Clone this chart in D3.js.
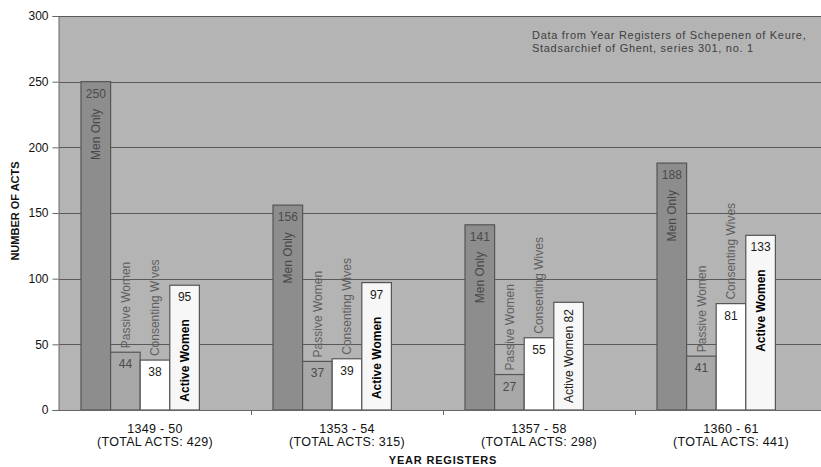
<!DOCTYPE html>
<html>
<head>
<meta charset="utf-8">
<script src="https://cdn.jsdelivr.net/npm/d3@7"></script>
<style>
  html, body { margin: 0; padding: 0; background: #fff; }
  svg { display: block; font-family: "Liberation Sans", Arial, sans-serif; }
</style>
</head>
<body>
<svg id="chart" width="821" height="467"></svg>
<script>
const categories = ["1349 - 50", "1353 - 54", "1357 - 58", "1360 - 61"];
const totals = [429, 315, 298, 441];
const seriesNames = ["Men Only", "Passive Women", "Consenting Wives", "Active Women"];
const menOnly = [250, 156, 141, 188];
const passiveWomen = [44, 37, 27, 41];
const consentingWives = [38, 39, 55, 81];
const activeWomen = [95, 97, 82, 133];
const yTicks = [0, 50, 100, 150, 200, 250, 300];
const note = ["Data from Year Registers of Schepenen of Keure,", "Stadsarchief of Ghent, series 301, no. 1"];

(function () {
const seriesValues = [menOnly, passiveWomen, consentingWives, activeWomen];
const fills = ["#8d8d8d", "#a8a8a8", "#ffffff", "#f7f7f7"];

const svg = d3.select("#chart");
const mLeft = 59, mRight = 827, mTop = 16, mBottom = 410;

const y = d3.scaleLinear().domain([0, 300]).range([mBottom, mTop]);
const x0 = d3.scaleBand().domain(categories).range([mLeft, mRight]);
const x1 = d3.scaleBand().domain(d3.range(5)).range([22, x0.bandwidth() - 22]);

// plot background
svg.append("rect").attr("x", mLeft).attr("y", mTop).attr("width", mRight - mLeft).attr("height", mBottom - mTop)
  .attr("fill", "#b4b4b4");

// gridlines
svg.append("g").selectAll("line").data(yTicks.filter(t => t > 0)).join("line")
  .attr("x1", mLeft).attr("x2", mRight).attr("y1", d => Math.round(y(d)) + 0.5).attr("y2", d => Math.round(y(d)) + 0.5)
  .attr("stroke", "#5a5a5a").attr("stroke-width", 1);

// bars
const rows = [];
categories.forEach((c, i) => seriesValues.forEach((vals, s) => rows.push({ c, i, s, v: vals[i] })));
const cx = d => x0(d.c) + x1(d.s) + x1.bandwidth() / 2;
// inside-bar label fits when bar is tall enough for value + name
const fitsInside = d => (y(0) - y(d.v)) > 120;
const insideName = d => d.s === 0 || (d.s === 3 && fitsInside(d));
const combined = d => d.s === 3 && !fitsInside(d);

const g = svg.append("g");
g.selectAll("rect").data(rows).join("rect")
  .attr("x", d => x0(d.c) + x1(d.s))
  .attr("y", d => y(d.v))
  .attr("width", x1.bandwidth())
  .attr("height", d => y(0) - y(d.v))
  .attr("fill", d => fills[d.s])
  .attr("stroke", "#555").attr("stroke-width", 1.2);

// value labels (horizontal)
g.selectAll("text.val").data(rows.filter(d => !combined(d))).join("text").attr("class", "val")
  .attr("x", cx)
  .attr("y", d => y(d.v) + 16)
  .attr("text-anchor", "middle")
  .attr("font-size", 12)
  .attr("fill", d => d.s < 2 ? "#4a4a4a" : "#1a1a1a")
  .text(d => d.v);

// series name labels (rotated)
g.selectAll("text.name").data(rows).join("text").attr("class", "name")
  .attr("transform", d => {
    let yy;
    if (combined(d)) yy = y(0) - 7;
    else if (d.s === 0) yy = y(d.v) + 27;
    else if (d.s === 3) yy = y(d.v) + 34;
    else yy = y(d.v) - 4;
    return `translate(${cx(d)},${yy}) rotate(-90)`;
  })
  .attr("dy", "0.36em")
  .attr("text-anchor", d => insideName(d) ? "end" : "start")
  .attr("font-size", 12)
  .attr("font-weight", d => (d.s === 3 && !combined(d)) ? "bold" : "normal")
  .attr("fill", d => d.s === 3 ? (combined(d) ? "#222" : "#000") : (d.s === 0 ? "#484848" : "#606060"))
  .text(d => combined(d) ? `${seriesNames[d.s]} ${d.v}` : seriesNames[d.s]);

// y axis
const yAxis = svg.append("g").attr("transform", `translate(${mLeft - 0.5},0)`)
  .call(d3.axisLeft(y).tickValues(yTicks).tickSize(6).tickPadding(4));
yAxis.select(".domain").attr("stroke", "#666");
yAxis.selectAll(".tick line").attr("stroke", "#666");
yAxis.selectAll(".tick text").attr("font-size", 12).attr("fill", "#111").attr("font-family", "Liberation Sans, Arial, sans-serif");

// x axis line and boundary ticks
svg.append("line").attr("x1", mLeft).attr("x2", mRight).attr("y1", mBottom + 0.5).attr("y2", mBottom + 0.5).attr("stroke", "#666");
svg.append("g").selectAll("line").data(categories.slice(1)).join("line")
  .attr("x1", d => Math.round(x0(d)) + 0.5).attr("x2", d => Math.round(x0(d)) + 0.5)
  .attr("y1", mBottom).attr("y2", mBottom + 5).attr("stroke", "#666");

// category labels
const cl = svg.append("g").selectAll("text").data(categories).join("text")
  .attr("text-anchor", "middle").attr("font-size", 12.5).attr("letter-spacing", 0.3).attr("fill", "#111");
cl.append("tspan").attr("x", d => x0(d) + x0.bandwidth() / 2).attr("y", 433).text(d => d);
cl.append("tspan").attr("x", d => x0(d) + x0.bandwidth() / 2).attr("y", 446).text((d, i) => `(TOTAL ACTS: ${totals[i]})`);

// axis titles
svg.append("text").attr("x", (mLeft + mRight) / 2).attr("y", 464).attr("text-anchor", "middle")
  .attr("font-size", 11).attr("letter-spacing", 0.8).attr("font-weight", "bold").attr("fill", "#111").text("YEAR REGISTERS");
svg.append("text").attr("transform", `translate(15,211) rotate(-90)`).attr("dy", "0.36em").attr("text-anchor", "middle")
  .attr("font-size", 11).attr("font-weight", "bold").attr("fill", "#111").text("NUMBER OF ACTS");

// note
svg.append("g").selectAll("text").data(note).join("text")
  .attr("x", 532).attr("y", (d, i) => 39 + i * 12.5)
  .attr("font-size", 11).attr("letter-spacing", 0.7).attr("fill", "#3e3e3e").text(d => d);
})();
</script>
</body>
</html>
